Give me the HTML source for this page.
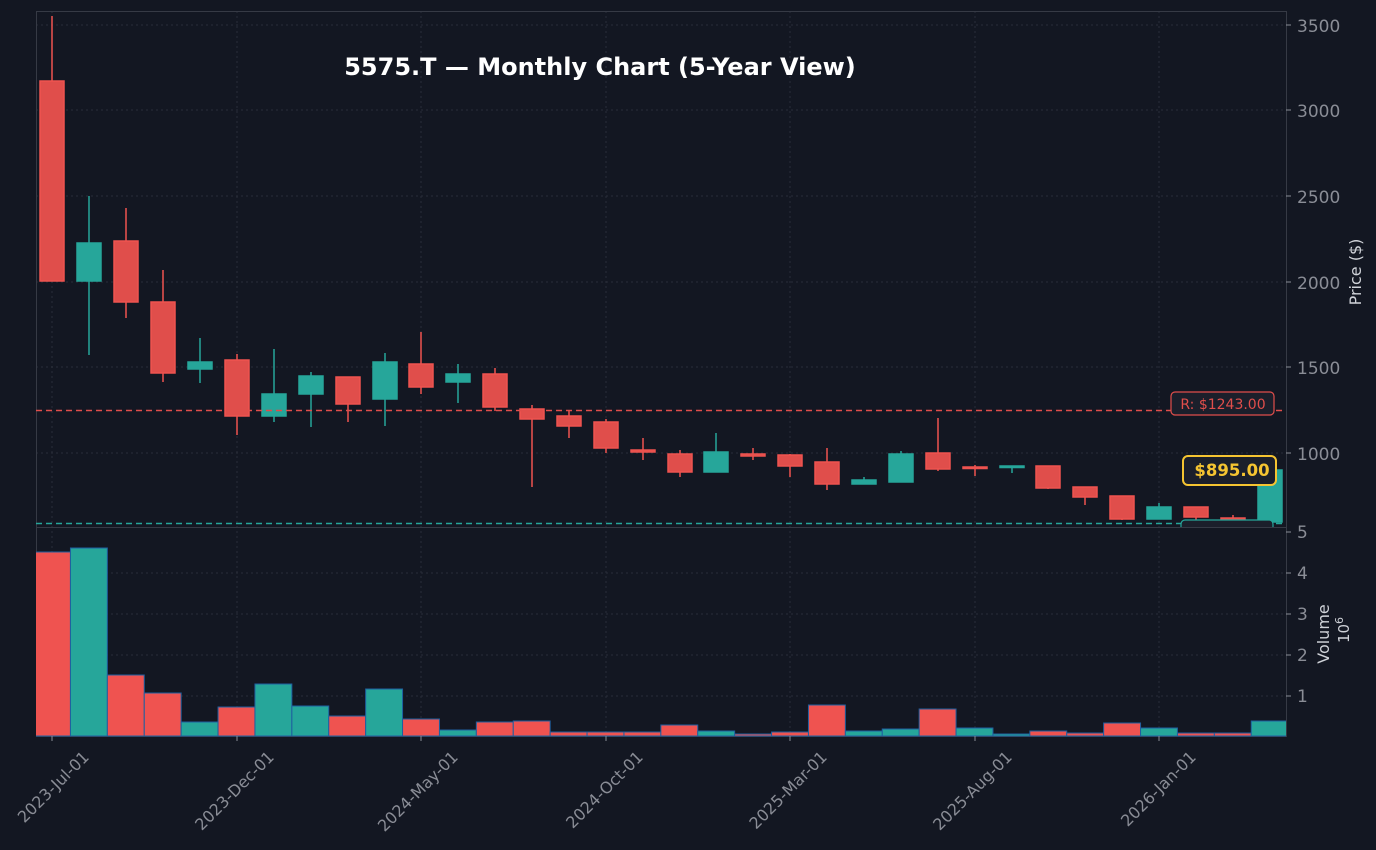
<!DOCTYPE html>
<html><head><meta charset="utf-8"><style>
html,body{margin:0;padding:0;background:#131722;}
svg{display:block;font-family:"DejaVu Sans","Liberation Sans",sans-serif;}
</style></head><body>
<svg width="1376" height="850" viewBox="0 0 1376 850" xmlns="http://www.w3.org/2000/svg">
<defs><clipPath id="vc"><rect x="36" y="527" width="1250" height="210"/></clipPath>
<clipPath id="pc"><rect x="0" y="0" width="1376" height="527"/></clipPath></defs>
<rect width="1376" height="850" fill="#131722"/>
<g stroke="#2a2e39" stroke-width="1" stroke-dasharray="2,3">
<line x1="52" y1="11" x2="52" y2="736"/><line x1="237" y1="11" x2="237" y2="736"/><line x1="421" y1="11" x2="421" y2="736"/><line x1="606" y1="11" x2="606" y2="736"/><line x1="790" y1="11" x2="790" y2="736"/><line x1="975" y1="11" x2="975" y2="736"/><line x1="1159" y1="11" x2="1159" y2="736"/>
<line x1="36" y1="25" x2="1286" y2="25"/><line x1="36" y1="110" x2="1286" y2="110"/><line x1="36" y1="196" x2="1286" y2="196"/><line x1="36" y1="282" x2="1286" y2="282"/><line x1="36" y1="367" x2="1286" y2="367"/><line x1="36" y1="453" x2="1286" y2="453"/>
<line x1="36" y1="573" x2="1286" y2="573"/><line x1="36" y1="614" x2="1286" y2="614"/><line x1="36" y1="655" x2="1286" y2="655"/><line x1="36" y1="696" x2="1286" y2="696"/>
</g>
<g fill="none" stroke="#363a45" stroke-width="1">
<rect x="36.5" y="11.5" width="1250" height="516"/>
<rect x="36.5" y="527.5" width="1250" height="209"/>
</g>
<g stroke-width="1.5">
<line x1="52" x2="52" y1="16" y2="281" stroke="#ef5350"/>
<line x1="89" x2="89" y1="196" y2="355" stroke="#26a69a"/>
<line x1="126" x2="126" y1="208" y2="318" stroke="#ef5350"/>
<line x1="163" x2="163" y1="270" y2="382" stroke="#ef5350"/>
<line x1="200" x2="200" y1="338" y2="383" stroke="#26a69a"/>
<line x1="237" x2="237" y1="354" y2="435" stroke="#ef5350"/>
<line x1="274" x2="274" y1="349" y2="422" stroke="#26a69a"/>
<line x1="311" x2="311" y1="372" y2="427" stroke="#26a69a"/>
<line x1="348" x2="348" y1="377" y2="422" stroke="#ef5350"/>
<line x1="385" x2="385" y1="353" y2="426" stroke="#26a69a"/>
<line x1="421" x2="421" y1="332" y2="394" stroke="#ef5350"/>
<line x1="458" x2="458" y1="364" y2="403" stroke="#26a69a"/>
<line x1="495" x2="495" y1="368" y2="411" stroke="#ef5350"/>
<line x1="532" x2="532" y1="405" y2="487" stroke="#ef5350"/>
<line x1="569" x2="569" y1="411" y2="438" stroke="#ef5350"/>
<line x1="606" x2="606" y1="419" y2="453" stroke="#ef5350"/>
<line x1="643" x2="643" y1="438" y2="460" stroke="#ef5350"/>
<line x1="680" x2="680" y1="450" y2="477" stroke="#ef5350"/>
<line x1="716" x2="716" y1="433" y2="472" stroke="#26a69a"/>
<line x1="753" x2="753" y1="448" y2="460" stroke="#ef5350"/>
<line x1="790" x2="790" y1="454" y2="477" stroke="#ef5350"/>
<line x1="827" x2="827" y1="448" y2="490" stroke="#ef5350"/>
<line x1="864" x2="864" y1="477" y2="484" stroke="#26a69a"/>
<line x1="901" x2="901" y1="451" y2="482" stroke="#26a69a"/>
<line x1="938" x2="938" y1="418" y2="471" stroke="#ef5350"/>
<line x1="975" x2="975" y1="465" y2="476" stroke="#ef5350"/>
<line x1="1012" x2="1012" y1="466" y2="473" stroke="#26a69a"/>
<line x1="1048" x2="1048" y1="466" y2="489" stroke="#ef5350"/>
<line x1="1085" x2="1085" y1="487" y2="505" stroke="#ef5350"/>
<line x1="1122" x2="1122" y1="496" y2="520" stroke="#ef5350"/>
<line x1="1159" x2="1159" y1="503" y2="519" stroke="#26a69a"/>
<line x1="1196" x2="1196" y1="507" y2="522" stroke="#ef5350"/>
<line x1="1233" x2="1233" y1="515" y2="522" stroke="#ef5350"/>
</g>
<g stroke-width="1.5">
<g fill="#e04e4b" stroke="#ef5350">
<rect x="40" y="81" width="24" height="200"/>
<rect x="114" y="241" width="24" height="61"/>
<rect x="151" y="302" width="24" height="71"/>
<rect x="225" y="360" width="24" height="56"/>
<rect x="336" y="377" width="24" height="27"/>
<rect x="409" y="364" width="24" height="23"/>
<rect x="483" y="374" width="24" height="33"/>
<rect x="520" y="409" width="24" height="10"/>
<rect x="557" y="416" width="24" height="10"/>
<rect x="594" y="422" width="24" height="26"/>
<rect x="631" y="450" width="24" height="2"/>
<rect x="668" y="454" width="24" height="18"/>
<rect x="741" y="454" width="24" height="2"/>
<rect x="778" y="455" width="24" height="11"/>
<rect x="815" y="462" width="24" height="22"/>
<rect x="926" y="453" width="24" height="16"/>
<rect x="963" y="467" width="24" height="1.5"/>
<rect x="1036" y="466" width="24" height="22"/>
<rect x="1073" y="487" width="24" height="10"/>
<rect x="1110" y="496" width="24" height="23"/>
<rect x="1184" y="507" width="24" height="10"/>
<rect x="1221" y="518" width="24" height="2"/>
</g>
<g fill="#26a69a" stroke="#26a69a">
<rect x="77" y="243" width="24" height="38"/>
<rect x="188" y="362" width="24" height="7"/>
<rect x="262" y="394" width="24" height="22"/>
<rect x="299" y="376" width="24" height="18"/>
<rect x="373" y="362" width="24" height="37"/>
<rect x="446" y="374" width="24" height="8"/>
<rect x="704" y="452" width="24" height="20"/>
<rect x="852" y="480" width="24" height="4"/>
<rect x="889" y="454" width="24" height="28"/>
<rect x="1000" y="466" width="24" height="1.5"/>
<rect x="1147" y="507" width="24" height="12"/>
<rect x="1258" y="470" width="24" height="52"/>
</g>
</g>
<g clip-path="url(#vc)" stroke="#1f5fa0" stroke-width="1">
<rect x="33.55" y="552" width="36.9" height="184" fill="#ef5350"/>
<rect x="70.45" y="548" width="36.9" height="188" fill="#26a69a"/>
<rect x="107.35" y="675" width="36.9" height="61" fill="#ef5350"/>
<rect x="144.25" y="693" width="36.9" height="43" fill="#ef5350"/>
<rect x="181.15" y="722" width="36.9" height="14" fill="#26a69a"/>
<rect x="218.05" y="707" width="36.9" height="29" fill="#ef5350"/>
<rect x="254.95" y="684" width="36.9" height="52" fill="#26a69a"/>
<rect x="291.85" y="706" width="36.9" height="30" fill="#26a69a"/>
<rect x="328.75" y="716" width="36.9" height="20" fill="#ef5350"/>
<rect x="365.65" y="689" width="36.9" height="47" fill="#26a69a"/>
<rect x="402.55" y="719" width="36.9" height="17" fill="#ef5350"/>
<rect x="439.45" y="730" width="36.9" height="6" fill="#26a69a"/>
<rect x="476.35" y="722" width="36.9" height="14" fill="#ef5350"/>
<rect x="513.25" y="721" width="36.9" height="15" fill="#ef5350"/>
<rect x="550.15" y="732" width="36.9" height="4" fill="#ef5350"/>
<rect x="587.05" y="732" width="36.9" height="4" fill="#ef5350"/>
<rect x="623.95" y="732" width="36.9" height="4" fill="#ef5350"/>
<rect x="660.85" y="725" width="36.9" height="11" fill="#ef5350"/>
<rect x="697.75" y="731" width="36.9" height="5" fill="#26a69a"/>
<rect x="734.65" y="734" width="36.9" height="2" fill="#ef5350"/>
<rect x="771.55" y="732" width="36.9" height="4" fill="#ef5350"/>
<rect x="808.45" y="705" width="36.9" height="31" fill="#ef5350"/>
<rect x="845.35" y="731" width="36.9" height="5" fill="#26a69a"/>
<rect x="882.25" y="729" width="36.9" height="7" fill="#26a69a"/>
<rect x="919.15" y="709" width="36.9" height="27" fill="#ef5350"/>
<rect x="956.05" y="728" width="36.9" height="8" fill="#26a69a"/>
<rect x="992.95" y="734" width="36.9" height="2" fill="#26a69a"/>
<rect x="1029.85" y="731" width="36.9" height="5" fill="#ef5350"/>
<rect x="1066.75" y="733" width="36.9" height="3" fill="#ef5350"/>
<rect x="1103.65" y="723" width="36.9" height="13" fill="#ef5350"/>
<rect x="1140.55" y="728" width="36.9" height="8" fill="#26a69a"/>
<rect x="1177.45" y="733" width="36.9" height="3" fill="#ef5350"/>
<rect x="1214.35" y="733" width="36.9" height="3" fill="#ef5350"/>
<rect x="1251.25" y="721" width="36.9" height="15" fill="#26a69a"/>
</g>
<line x1="36" y1="410.5" x2="1286" y2="410.5" stroke="#e04e4b" stroke-width="1.5" stroke-dasharray="6,4"/>
<line x1="36" y1="523.5" x2="1286" y2="523.5" stroke="#26a69a" stroke-width="1.5" stroke-dasharray="6,4"/>
<rect x="1171" y="392" width="103" height="23" rx="4" fill="#1b1f2b" stroke="#e04e4b" stroke-width="1.2"/>
<text x="1223" y="409" fill="#e04e4b" font-size="14" text-anchor="middle">R: $1243.00</text>
<g clip-path="url(#pc)">
<rect x="1181" y="520" width="92" height="24" rx="4" fill="#1b1f2b" stroke="#26a69a" stroke-width="1.2"/>
<text x="1227" y="538" fill="#26a69a" font-size="14" text-anchor="middle">S: $582.00</text>
</g>
<rect x="1183" y="456" width="93" height="29" rx="5" fill="#1b1f2b" stroke="#f5c431" stroke-width="2"/>
<text x="1232" y="476" fill="#f5c431" font-size="16.5" font-weight="bold" text-anchor="middle">$895.00</text>
<text x="600" y="75" fill="#ffffff" font-size="24" font-weight="bold" text-anchor="middle">5575.T — Monthly Chart (5-Year View)</text>
<g fill="#8a8d96" font-size="17">
<text x="1297" y="32">3500</text><text x="1297" y="117">3000</text><text x="1297" y="203">2500</text><text x="1297" y="289">2000</text><text x="1297" y="374">1500</text><text x="1297" y="460">1000</text>
<text x="1297" y="538">5</text><text x="1297" y="579">4</text><text x="1297" y="620">3</text><text x="1297" y="661">2</text><text x="1297" y="702">1</text>
</g>
<g stroke="#8a8d96"><line x1="1286" y1="25" x2="1291" y2="25"/><line x1="1286" y1="110" x2="1291" y2="110"/><line x1="1286" y1="196" x2="1291" y2="196"/><line x1="1286" y1="282" x2="1291" y2="282"/><line x1="1286" y1="367" x2="1291" y2="367"/><line x1="1286" y1="453" x2="1291" y2="453"/><line x1="1286" y1="532" x2="1291" y2="532"/><line x1="1286" y1="573" x2="1291" y2="573"/><line x1="1286" y1="614" x2="1291" y2="614"/><line x1="1286" y1="655" x2="1291" y2="655"/><line x1="1286" y1="696" x2="1291" y2="696"/>
<line x1="52" y1="736" x2="52" y2="741"/><line x1="237" y1="736" x2="237" y2="741"/><line x1="421" y1="736" x2="421" y2="741"/><line x1="606" y1="736" x2="606" y2="741"/><line x1="790" y1="736" x2="790" y2="741"/><line x1="975" y1="736" x2="975" y2="741"/><line x1="1159" y1="736" x2="1159" y2="741"/></g>
<text transform="translate(1361,272) rotate(-90)" fill="#cfd2d8" font-size="16" text-anchor="middle">Price ($)</text>
<text transform="translate(1329,634) rotate(-90)" fill="#cfd2d8" font-size="16" text-anchor="middle">Volume</text>
<text transform="translate(1349,630) rotate(-90)" fill="#cfd2d8" font-size="15" text-anchor="middle">10<tspan dy="-6" font-size="11">6</tspan></text>
<g fill="#8a8d96" font-size="16" text-anchor="end">
<text transform="translate(90,758) rotate(-45)">2023-Jul-01</text>
<text transform="translate(275,758) rotate(-45)">2023-Dec-01</text>
<text transform="translate(459,758) rotate(-45)">2024-May-01</text>
<text transform="translate(644,758) rotate(-45)">2024-Oct-01</text>
<text transform="translate(828,758) rotate(-45)">2025-Mar-01</text>
<text transform="translate(1013,758) rotate(-45)">2025-Aug-01</text>
<text transform="translate(1197,758) rotate(-45)">2026-Jan-01</text>
</g>
</svg>
</body></html>
